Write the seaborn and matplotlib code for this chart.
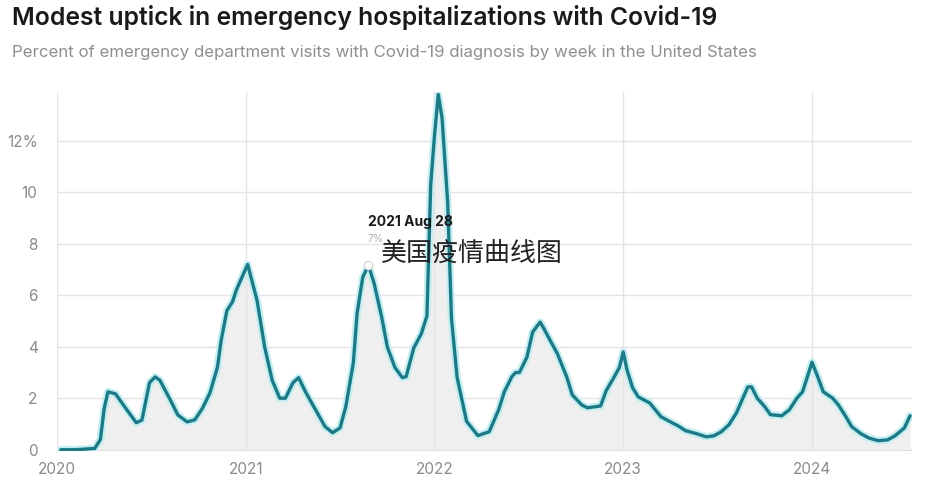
import matplotlib
matplotlib.use("Agg")
import matplotlib.pyplot as plt
import pandas as pd
import seaborn as sns

## Data (decimal year, % of ED visits) ##
week_pos = [2020.02, 2020.10, 2020.20, 2020.23, 2020.25, 2020.27, 2020.31, 2020.37, 2020.42, 2020.45,
            2020.49, 2020.52, 2020.545, 2020.60, 2020.64, 2020.69, 2020.73, 2020.77, 2020.81, 2020.85,
            2020.87, 2020.90, 2020.93, 2020.95, 2020.98, 2021.01, 2021.06, 2021.10, 2021.14, 2021.18,
            2021.21, 2021.25, 2021.28, 2021.32, 2021.37, 2021.42, 2021.46, 2021.50, 2021.53, 2021.57,
            2021.59, 2021.62, 2021.65, 2021.68, 2021.72, 2021.75, 2021.79, 2021.83, 2021.85, 2021.89,
            2021.93, 2021.96, 2021.98, 2022.00, 2022.02, 2022.04, 2022.07, 2022.09, 2022.12, 2022.17,
            2022.23, 2022.29, 2022.34, 2022.37, 2022.41, 2022.43, 2022.45, 2022.49, 2022.52, 2022.56,
            2022.58, 2022.62, 2022.65, 2022.70, 2022.73, 2022.78, 2022.81, 2022.85, 2022.88, 2022.91,
            2022.95, 2022.98, 2023.00, 2023.02, 2023.05, 2023.08, 2023.14, 2023.17, 2023.20, 2023.24,
            2023.29, 2023.33, 2023.39, 2023.44, 2023.48, 2023.52, 2023.56, 2023.60, 2023.63, 2023.66,
            2023.68, 2023.71, 2023.75, 2023.78, 2023.84, 2023.88, 2023.92, 2023.95, 2023.97, 2024.00,
            2024.03, 2024.06, 2024.11, 2024.14, 2024.18, 2024.21, 2024.26, 2024.30, 2024.35, 2024.40,
            2024.44, 2024.49, 2024.52]
pct_visits = [0.0, 0.0, 0.05, 0.4, 1.6, 2.25, 2.17, 1.55, 1.05, 1.15,
              2.6, 2.83, 2.7, 1.94, 1.35, 1.08, 1.16, 1.6, 2.2, 3.2,
              4.26, 5.4, 5.75, 6.2, 6.7, 7.2, 5.8, 4.0, 2.7, 2.0,
              2.0, 2.6, 2.8, 2.2, 1.55, 0.9, 0.66, 0.85, 1.67, 3.37,
              5.3, 6.7, 7.17, 6.47, 5.16, 4.0, 3.2, 2.8, 2.84, 3.95,
              4.5, 5.2, 10.3, 12.2, 13.8, 12.9, 9.6, 5.1, 2.8, 1.1,
              0.55, 0.7, 1.55, 2.25, 2.84, 3.0, 3.0, 3.6, 4.57, 4.96,
              4.7, 4.15, 3.75, 2.84, 2.13, 1.74, 1.63, 1.67, 1.7, 2.3,
              2.8, 3.2, 3.8, 3.1, 2.4, 2.05, 1.82, 1.55, 1.28, 1.12,
              0.93, 0.74, 0.62, 0.5, 0.54, 0.7, 0.97, 1.43, 1.94, 2.44,
              2.44, 2.0, 1.67, 1.36, 1.32, 1.55, 2.0, 2.25, 2.7, 3.4,
              2.84, 2.25, 2.0, 1.74, 1.28, 0.9, 0.62, 0.46, 0.35, 0.38,
              0.54, 0.85, 1.32]

year_ticks = [2020, 2021, 2022, 2023, 2024]
y_ticks = [0, 2, 4, 6, 8, 10, 12]
y_labels = ['0', '2', '4', '6', '8', '10', '12%']

hover_label = '2021 Aug 28'
hover_value = '7%'
hover_x = 2021.65
hover_y = 7.17

df = pd.DataFrame({'year': week_pos, 'pct': pct_visits})

sns.set_theme(style='white')
plt.rcParams['font.family'] = ['Inter', 'Noto Sans CJK SC', 'DejaVu Sans']

line_color = '#1c7a86'
halo_color = '#c4eef2'
grey_text = '#8a8a8a'

fig = plt.figure(figsize=(9.39, 4.90), dpi=100)
ax = fig.add_axes([57 / 939, 1 - 451 / 490, (912 - 57) / 939, (451 - 92) / 490])

# area under the curve
ax.fill_between(df.year, 0, df.pct, color='#efefef', zorder=1, linewidth=0)

# light halo then the line itself
sns.lineplot(data=df, x='year', y='pct', ax=ax, color=halo_color, linewidth=5.5,
             zorder=3, sort=False)
sns.lineplot(data=df, x='year', y='pct', ax=ax, color=line_color, linewidth=2.4,
             zorder=4, sort=False)

# hover marker
ax.plot([hover_x], [hover_y], marker='o', markersize=6, markerfacecolor='white',
        markeredgecolor='#d9d9d9', zorder=5)

ax.set_xlim(2020, 2024.53)
ax.set_ylim(-0.05, 13.9)

# grid
for yv in y_ticks:
    ax.axhline(yv, color='#e4e4e4' if yv else '#dcdcdc', linewidth=1, zorder=0)
for xv in year_ticks:
    ax.axvline(xv, color='#e4e4e4', linewidth=1, zorder=2)

ax.set_xticks(year_ticks)
ax.set_xticklabels([str(y) for y in year_ticks])
ax.set_yticks(y_ticks)
ax.set_yticklabels(y_labels)
ax.tick_params(axis='both', length=0, labelsize=11, labelcolor=grey_text)
ax.tick_params(axis='y', pad=14)
ax.tick_params(axis='x', pad=8)
for sp in ax.spines.values():
    sp.set_visible(False)
ax.set_xlabel('')
ax.set_ylabel('')

# titles
fig.text(12 / 939, 1 - 17 / 490, 'Modest uptick in emergency hospitalizations with Covid-19',
         fontsize=17.8, fontweight='semibold', color='#1a1a1a', va='center', ha='left')
fig.text(12 / 939, 1 - 52 / 490,
         'Percent of emergency department visits with Covid-19 diagnosis by week in the United States',
         fontsize=12.1, color='#8f8f8f', va='center', ha='left')

# tooltip
ax.text(hover_x - 0.003, 8.85, hover_label, fontsize=10, fontweight='bold', color='#1a1a1a',
        ha='left', va='center', zorder=6)
ax.text(hover_x - 0.003, 8.2, hover_value, fontsize=7.5, color='#b0b0b0',
        ha='left', va='center', zorder=6)

# overlay caption
fig.text(381 / 939, 1 - 254 / 490, '美国疫情曲线图', fontsize=18.7, color='#222222',
         family=['Noto Sans CJK SC', 'DejaVu Sans'], fontweight='light',
         ha='left', va='center', zorder=10)

fig.savefig('out.png', dpi=100, facecolor='white')
